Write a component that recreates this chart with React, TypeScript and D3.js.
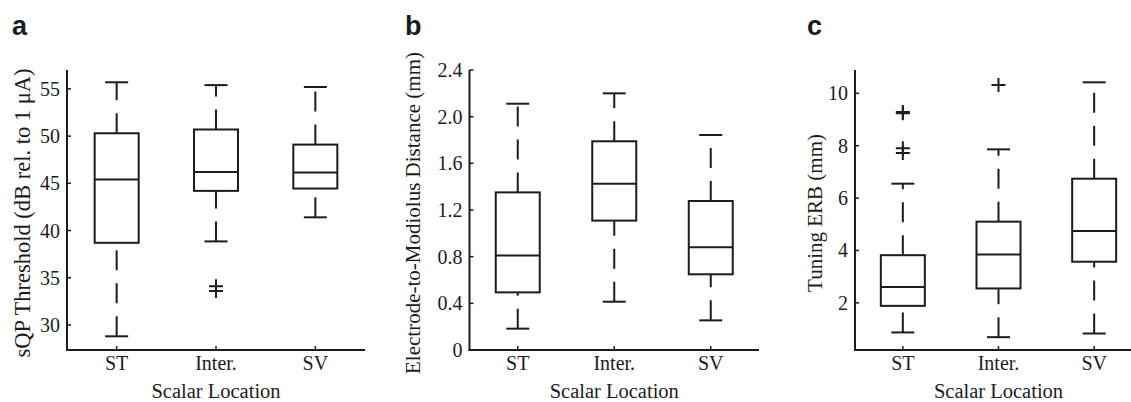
import React from 'react';
import * as d3 from 'd3';

// scalar locations along the x axis
const categories = ['ST', 'Inter.', 'SV'];

// box stats per location: [lower whisker, q1, median, q3, upper whisker]
const thresholdStats = [
  [28.8, 38.7, 45.4, 50.3, 55.7],
  [38.85, 44.2, 46.2, 50.7, 55.4],
  [41.4, 44.45, 46.15, 49.1, 55.2],
];
const thresholdOutliers = [[], [34.1, 33.6], []];
const thresholdTicks = [30, 35, 40, 45, 50, 55];
const thresholdTickLabels = ['30', '35', '40', '45', '50', '55'];

const distanceStats = [
  [0.183, 0.494, 0.811, 1.351, 2.111],
  [0.414, 1.109, 1.426, 1.789, 2.2],
  [0.254, 0.649, 0.88, 1.277, 1.843],
];
const distanceOutliers = [[], [], []];
const distanceTicks = [0, 0.4, 0.8, 1.2, 1.6, 2.0, 2.4];
const distanceTickLabels = ['0', '0.4', '0.8', '1.2', '1.6', '2.0', '2.4'];

const erbStats = [
  [0.87, 1.885, 2.61, 3.82, 6.55],
  [0.69, 2.55, 3.85, 5.1, 7.86],
  [0.83, 3.57, 4.74, 6.74, 10.42],
];
const erbOutliers = [[9.29, 9.24, 7.9, 7.72], [10.32], []];
const erbTicks = [2, 4, 6, 8, 10];
const erbTickLabels = ['2', '4', '6', '8', '10'];

const ink = '#1c1c1c';
const serif = "'Liberation Serif', 'DejaVu Serif', serif";
const sans = "'Liberation Sans', Arial, sans-serif";

type PanelProps = {
  letter: string;
  letterX: number;
  left: number;
  right: number;
  domain: [number, number];
  stats: number[][];
  outliers: number[][];
  ticks: number[];
  tickLabels: string[];
  yLabel: string;
  yLabelX: number;
  yLabelSize: number;
};

const top = 70;
const bottom = 350;

function Panel(p: PanelProps) {
  const y = d3.scaleLinear().domain(p.domain).range([bottom, top]);
  const x = d3.scaleBand().domain(categories).range([p.left, p.right]).padding(0);
  const half = 22;
  const cap = 11.5;
  const midY = (top + bottom) / 2 + 3;
  const serifStyle = { fontFamily: serif };

  return (
    <g>
      <text x={p.letterX} y={35} style={{ fontFamily: sans }} fontWeight="bold" fontSize={27} fill={ink}>
        {p.letter}
      </text>

      {/* axes */}
      <line x1={p.left} x2={p.left} y1={top} y2={bottom + 1} stroke={ink} strokeWidth={2} />
      <line x1={p.left - 1} x2={p.right} y1={bottom} y2={bottom} stroke={ink} strokeWidth={2} />

      {p.ticks.map((t, i) => (
        <g key={'yt' + i}>
          <line x1={p.left} x2={p.left + 4} y1={y(t)} y2={y(t)} stroke={ink} strokeWidth={1.5} />
          <text x={p.left - 7} y={y(t)} dy="0.35em" textAnchor="end" style={serifStyle} fontSize={20} fill={ink}>
            {p.tickLabels[i]}
          </text>
        </g>
      ))}

      {categories.map((c) => {
        const cx = (x(c) as number) + x.bandwidth() / 2;
        return (
          <g key={'xt' + c}>
            <line x1={cx} x2={cx} y1={bottom} y2={bottom - 4} stroke={ink} strokeWidth={1.5} />
            <text x={cx} y={370} textAnchor="middle" style={serifStyle} fontSize={20} fill={ink}>
              {c}
            </text>
          </g>
        );
      })}

      <text x={(p.left + p.right) / 2} y={398} textAnchor="middle" style={serifStyle} fontSize={20.5} fill={ink}>
        Scalar Location
      </text>

      <text
        transform={`translate(${p.yLabelX},${midY}) rotate(-90)`}
        textAnchor="middle"
        style={serifStyle}
        fontSize={p.yLabelSize}
        fill={ink}
      >
        {p.yLabel}
      </text>

      {/* boxes */}
      {categories.map((c, i) => {
        const cx = (x(c) as number) + x.bandwidth() / 2;
        const [lo, q1, med, q3, hi] = p.stats[i];
        return (
          <g key={'box' + c} stroke={ink} fill="none">
            {/* whiskers drawn bottom to top like matlab */}
            <line x1={cx} x2={cx} y1={y(q3)} y2={y(hi)} strokeWidth={2} strokeDasharray="20,13" />
            <line x1={cx} x2={cx} y1={y(lo)} y2={y(q1)} strokeWidth={2} strokeDasharray="20,13" />
            <line x1={cx - cap} x2={cx + cap} y1={y(hi)} y2={y(hi)} strokeWidth={2} />
            <line x1={cx - cap} x2={cx + cap} y1={y(lo)} y2={y(lo)} strokeWidth={2} />
            <rect x={cx - half} y={y(q3)} width={half * 2} height={y(q1) - y(q3)} strokeWidth={2} fill="#fff" />
            <line x1={cx - half} x2={cx + half} y1={y(med)} y2={y(med)} strokeWidth={2} />
            {p.outliers[i].map((v, k) => (
              <path
                key={k}
                d={`M${cx - 7},${y(v)}H${cx + 7}M${cx},${y(v) - 7}V${y(v) + 7}`}
                strokeWidth={2}
              />
            ))}
          </g>
        );
      })}
    </g>
  );
}

export default function App() {
  return (
    <svg width={1131} height={402} style={{ position: 'absolute', left: 0, top: 0, background: '#fff' }}>
      <rect width={1131} height={402} fill="#fff" />
      <Panel
        letter="a"
        letterX={12}
        left={67}
        right={365}
        domain={[27.35, 57.0]}
        stats={thresholdStats}
        outliers={thresholdOutliers}
        ticks={thresholdTicks}
        tickLabels={thresholdTickLabels}
        yLabel="sQP Threshold (dB rel. to 1 μA)"
        yLabelX={30}
        yLabelSize={22.5}
      />
      <Panel
        letter="b"
        letterX={405}
        left={469.5}
        right={759}
        domain={[0, 2.4]}
        stats={distanceStats}
        outliers={distanceOutliers}
        ticks={distanceTicks}
        tickLabels={distanceTickLabels}
        yLabel="Electrode-to-Modiolus Distance (mm)"
        yLabelX={420}
        yLabelSize={21}
      />
      <Panel
        letter="c"
        letterX={807}
        left={855}
        right={1142}
        domain={[0.2, 10.89]}
        stats={erbStats}
        outliers={erbOutliers}
        ticks={erbTicks}
        tickLabels={erbTickLabels}
        yLabel="Tuning ERB (mm)"
        yLabelX={821.5}
        yLabelSize={21}
      />
    </svg>
  );
}
